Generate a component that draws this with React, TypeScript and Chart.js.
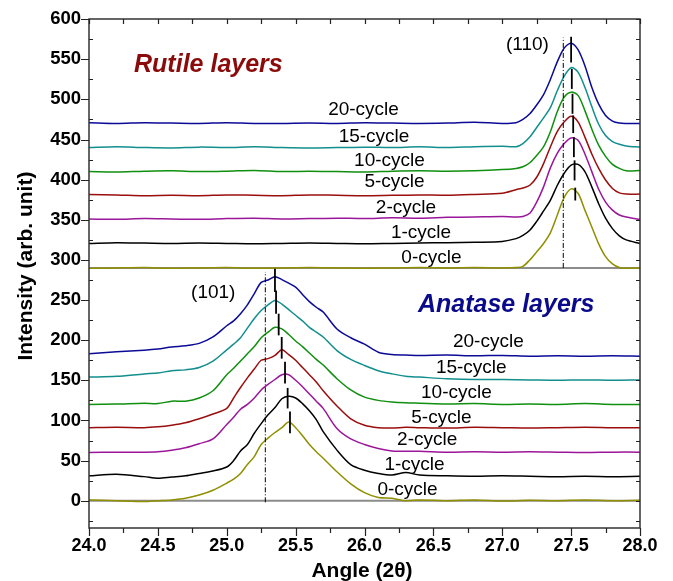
import { useEffect, useRef } from "react";
import { Chart, registerables } from "chart.js";

Chart.register(...registerables);

// ---- Data ----
const cycleNames = ["0-cycle", "1-cycle", "2-cycle", "5-cycle", "10-cycle", "15-cycle", "20-cycle"];
const cycleColors = ["#8f8f00", "#000000", "#9a169a", "#9a0e0e", "#108f10", "#138e8e", "#0b0b96"];

const rutileX = [24.0, 24.2, 24.4, 24.6, 24.8, 25.0, 25.2, 25.4, 25.6, 25.8, 26.0, 26.2, 26.4, 26.6, 26.8,
  27.0, 27.1, 27.15, 27.2, 27.25, 27.3, 27.35, 27.4, 27.45, 27.5, 27.55, 27.6, 27.65, 27.7, 27.75, 27.8, 27.85, 27.9, 28.0];
const rutile0 = [289.5, 290, 290.5, 289.5, 290, 290.5, 289.5, 290, 290.5, 290, 289.5, 290, 290.5, 290, 290.5,
  290, 290.5, 292, 300, 310, 320.5, 334, 356, 378, 388.5, 383, 362, 341, 320, 304, 295, 290.5, 289.5, 290];
const rutile1 = [320.5, 321.5, 321, 320.5, 321, 320.5, 320, 320.5, 321, 320.5, 320, 320.5, 321, 321.5, 322,
  323, 326.5, 330.5, 337, 348, 361, 374.5, 393, 408, 418, 419, 410, 391, 370, 352, 339, 330, 325, 320.5];
const rutile2 = [351, 350.5, 351.5, 351, 350.5, 351.5, 352, 351, 351.5, 352, 351.5, 352.5, 352, 353, 353.5,
  354, 353.5, 354, 358, 372, 391, 415, 433, 445, 452, 449, 432, 410, 388, 372, 362, 356, 353.5, 350.5];
const rutile5 = [381.5, 381, 380, 380.5, 380, 381, 380.5, 380, 381, 380.5, 380, 380.5, 381, 380.5, 381.5,
  383, 387.5, 389.5, 393, 403, 420, 441, 460, 472, 479, 472, 453, 432, 414, 399.5, 389, 383.5, 382, 382];
const rutile10 = [410, 409.5, 410.5, 411, 410, 410.5, 411.5, 410, 410.5, 410, 409.5, 410.5, 411, 410.5, 411,
  412.5, 414, 416, 421, 430, 441, 460, 485, 503, 509, 505, 486, 463, 443, 429, 419, 414, 411, 411.5];
const rutile15 = [440, 441, 440, 439.5, 440.5, 440, 441, 440, 439.5, 440, 440.5, 440, 441, 440, 441,
  441.5, 441, 445, 453, 465, 477, 490, 511, 529, 539.5, 534, 515, 491, 469, 455, 447.5, 444, 442, 440.5];
const rutile20 = [471, 470, 471, 470.5, 470, 471, 470, 470, 470.5, 470, 471, 470.5, 470, 470.5, 471.5,
  470, 471, 475, 482, 493, 506, 525, 547, 564, 570, 562, 542, 515, 494, 480, 473, 470.5, 470, 470];

const anataseX = [24.0, 24.2, 24.4, 24.5, 24.6, 24.7, 24.8, 24.9, 25.0, 25.05, 25.1, 25.15, 25.2, 25.25, 25.3,
  25.35, 25.4, 25.45, 25.5, 25.55, 25.6, 25.65, 25.7, 25.8, 25.9, 26.0, 26.1, 26.2, 26.3, 26.4, 26.6, 26.8,
  27.0, 27.2, 27.4, 27.6, 27.8, 28.0];
const anatase0 = [1, 0, -1, 0, 1, 3, 7, 13, 22, 27, 34, 45, 55, 70, 78,
  85, 91, 98, 91, 81, 70, 61, 53, 36, 21, 10, 4, 3, 0, 1, 0, 1,
  -0.5, 0.5, 0, 1, 0, 0.5];
const anatase1 = [31, 33, 30, 28, 29.5, 31, 34, 37, 42, 50, 62, 70, 84, 96, 107,
  116, 127, 130, 128, 121, 112, 101, 86, 63, 45, 38, 34, 32, 35, 32, 31, 30.5,
  31, 30.5, 30, 30.5, 30, 30.5];
const anatase2 = [60, 60.5, 60.5, 61, 63, 66, 71, 77, 95, 104, 114, 120, 128, 138, 145,
  151, 157, 157, 150, 142, 133, 124, 115, 90, 77, 70, 65, 62, 61.5, 61.5, 60.5, 61,
  60.5, 61, 60.5, 60, 60.5, 60.5];
const anatase5 = [91, 91.5, 91, 92, 94, 97, 102, 108, 115, 128, 141, 153, 164, 175, 177,
  181, 188, 182, 175, 166, 157, 148, 137, 118, 102, 94, 91, 90.5, 91.5, 91, 90.5, 91.5,
  91, 90.5, 91, 91.5, 91, 91];
const anatase10 = [120, 120.5, 121.5, 121, 124, 124, 128, 137, 157, 165, 174, 183, 192, 203, 210,
  216, 214, 207, 199, 192, 184, 176, 169, 152, 138, 129, 125, 123, 122, 121.5, 120.5, 121,
  120, 120.5, 120, 121, 120, 120];
const anatase15 = [154, 155, 158, 159, 162, 163, 166, 174, 188, 195, 203, 215, 227, 237, 244,
  249.5, 245, 238, 231, 224, 216, 210, 204, 187, 176, 168.5, 162, 158, 155, 154, 152, 151,
  151, 150.5, 150, 150.5, 150, 150.5];
const anatase20 = [183, 185.5, 187.5, 189, 191.5, 193, 196, 204, 218, 224, 233, 244, 258, 272, 275,
  279, 275.5, 271, 266, 257, 248, 241, 235, 214, 203, 195, 185, 182, 181.5, 181, 181.5, 180.5,
  181, 180, 180.5, 180, 180.5, 180];

// peak markers (per curve, 0 -> 20 cycle)
const rutilePeakX = [27.53, 27.525, 27.52, 27.515, 27.51, 27.505, 27.5];
const rutilePeakLow = [374, 399, 428, 458, 482, 513, 546];
const rutilePeakHigh = [390, 424, 453, 480, 507, 538, 578];
const anatasePeakX = [25.459, 25.442, 25.423, 25.399, 25.377, 25.358, 25.35];
const anatasePeakLow = [84, 115, 146, 177, 206, 233, 260];
const anatasePeakHigh = [111, 140.5, 173, 204, 233, 262, 289];

// reference lines
const rutileRefX = 27.443;
const rutileRefRange = [290, 577];
const anataseRefX = 25.28;
const anataseRefRange = [-2, 285];
const baselineLevels = [0, 290];

// label anchors (data coordinates)
const rutileLabelX = [26.486, 26.41, 26.301, 26.218, 26.181, 26.069, 25.993];
const rutileLabelY = [296, 327.1, 358.2, 390.5, 416.7, 446.5, 480.1];
const anataseLabelX = [26.312, 26.363, 26.455, 26.558, 26.667, 26.775, 26.899];
const anataseLabelY = [7.5, 38.6, 69.7, 97.4, 127.7, 159.6, 191.9];

const xMajor = [24.0, 24.5, 25.0, 25.5, 26.0, 26.5, 27.0, 27.5, 28.0];
const xMinor = [24.25, 24.75, 25.25, 25.75, 26.25, 26.75, 27.25, 27.75];
const yMajor = [0, 50, 100, 150, 200, 250, 300, 350, 400, 450, 500, 550, 600];
const yMinor = [-25, 25, 75, 125, 175, 225, 275, 325, 375, 425, 475, 525, 575];

const xTitle = "Angle (2θ)";
const yTitle = "Intensity (arb. unit)";

const FONT = "'Liberation Sans', Arial, Helvetica, sans-serif";

const rutileSeries = [rutile0, rutile1, rutile2, rutile5, rutile10, rutile15, rutile20];
const anataseSeries = [anatase0, anatase1, anatase2, anatase5, anatase10, anatase15, anatase20];

const decorPlugin = {
  id: "decor",
  afterDraw(chart: any) {
    const { ctx, chartArea: a, scales } = chart;
    const x = scales.x;
    const y = scales.y;
    ctx.save();
    ctx.setLineDash([]);
    ctx.lineDashOffset = 0;
    ctx.globalAlpha = 1;
    // frame
    ctx.strokeStyle = "#333333";
    ctx.lineWidth = 1.5;
    ctx.beginPath();
    ctx.moveTo(a.left, a.top);
    ctx.lineTo(a.right, a.top);
    ctx.lineTo(a.right, a.bottom);
    ctx.lineTo(a.left, a.bottom);
    ctx.closePath();
    ctx.stroke();

    ctx.lineWidth = 1.2;
    ctx.strokeStyle = "#222222";
    ctx.beginPath();
    yMajor.forEach((v) => {
      const py = Math.round(y.getPixelForValue(v)) + 0.5;
      ctx.moveTo(a.left - 8, py);
      ctx.lineTo(a.left, py);
      ctx.moveTo(a.right - 4, py);
      ctx.lineTo(a.right, py);
    });
    yMinor.forEach((v) => {
      const py = Math.round(y.getPixelForValue(v)) + 0.5;
      ctx.moveTo(a.left, py);
      ctx.lineTo(a.left + 4, py);
      ctx.moveTo(a.right - 4, py);
      ctx.lineTo(a.right, py);
    });
    xMajor.forEach((v) => {
      const px = Math.round(x.getPixelForValue(v)) + 0.5;
      ctx.moveTo(px, a.bottom);
      ctx.lineTo(px, a.bottom + 8);
      ctx.moveTo(px, a.top);
      ctx.lineTo(px, a.top + 5);
    });
    xMinor.forEach((v) => {
      const px = Math.round(x.getPixelForValue(v)) + 0.5;
      ctx.moveTo(px, a.bottom);
      ctx.lineTo(px, a.bottom + 5);
      ctx.moveTo(px, a.top);
      ctx.lineTo(px, a.top + 5);
    });
    ctx.stroke();

    // cycle labels
    ctx.fillStyle = "#000";
    ctx.font = `19px ${FONT}`;
    ctx.textAlign = "center";
    ctx.textBaseline = "alphabetic";
    cycleNames.forEach((name, i) => {
      ctx.fillText(name, x.getPixelForValue(rutileLabelX[i]), y.getPixelForValue(rutileLabelY[i]));
      ctx.fillText(name, x.getPixelForValue(anataseLabelX[i]), y.getPixelForValue(anataseLabelY[i]));
    });
    ctx.fillText("(110)", x.getPixelForValue(27.183), y.getPixelForValue(561));
    ctx.fillText("(101)", x.getPixelForValue(24.902), y.getPixelForValue(252.5));

    // panel titles
    ctx.textAlign = "left";
    ctx.font = `italic bold 25px ${FONT}`;
    ctx.fillStyle = "#8b0a0a";
    ctx.fillText("Rutile layers", x.getPixelForValue(24.327), y.getPixelForValue(534.5));
    ctx.fillStyle = "#0a0a8c";
    ctx.fillText("Anatase layers", x.getPixelForValue(26.388), y.getPixelForValue(235.4));

    // axis titles
    ctx.fillStyle = "#000";
    ctx.font = `bold 21px ${FONT}`;
    ctx.textAlign = "center";
    ctx.textBaseline = "alphabetic";
    ctx.fillText(xTitle, a.left + 273, 577);
    ctx.save();
    ctx.translate(31.5, a.top + 247);
    ctx.rotate(-Math.PI / 2);
    ctx.fillText(yTitle, 0, 0);
    ctx.restore();
    ctx.restore();
  },
};

export default function App() {
  const ref = useRef<HTMLCanvasElement | null>(null);

  useEffect(() => {
    if (!ref.current) return;
    const datasets: any[] = [];
    // gray baselines (drawn underneath)
    baselineLevels.forEach((lv) => {
      datasets.push({
        data: [{ x: 24, y: lv }, { x: 28, y: lv }],
        borderColor: "#8c8c8c",
        borderWidth: 2,
        pointRadius: 0,
        tension: 0,
        order: 10,
      });
    });
    rutileSeries.forEach((s, i) => {
      datasets.push({
        data: s.map((v, k) => ({ x: rutileX[k], y: v })),
        borderColor: cycleColors[i],
        borderWidth: 1.5,
        pointRadius: 0,
        tension: 0.3,
        order: 5,
      });
    });
    anataseSeries.forEach((s, i) => {
      datasets.push({
        data: s.map((v, k) => ({ x: anataseX[k], y: v })),
        borderColor: cycleColors[i],
        borderWidth: 1.5,
        pointRadius: 0,
        tension: 0.3,
        order: 5,
      });
    });
    // reference dash-dot lines
    datasets.push({
      data: [{ x: rutileRefX, y: rutileRefRange[0] }, { x: rutileRefX, y: rutileRefRange[1] }],
      borderColor: "#000",
      borderWidth: 1,
      borderDash: [5, 2, 1, 2],
      pointRadius: 0,
      order: 0,
    });
    datasets.push({
      data: [{ x: anataseRefX, y: anataseRefRange[0] }, { x: anataseRefX, y: anataseRefRange[1] }],
      borderColor: "#000",
      borderWidth: 1,
      borderDash: [5, 2, 1, 2],
      pointRadius: 0,
      order: 0,
    });
    // peak markers
    rutilePeakX.forEach((px, i) => {
      datasets.push({
        data: [{ x: px, y: rutilePeakLow[i] }, { x: px, y: rutilePeakHigh[i] }],
        borderColor: "#000",
        borderWidth: 1.8,
        pointRadius: 0,
        order: 0,
      });
    });
    anatasePeakX.forEach((px, i) => {
      datasets.push({
        data: [{ x: px, y: anatasePeakLow[i] }, { x: px, y: anatasePeakHigh[i] }],
        borderColor: "#000",
        borderWidth: 1.8,
        pointRadius: 0,
        order: 0,
      });
    });

    const chart = new Chart(ref.current, {
      type: "line",
      data: { datasets },
      plugins: [decorPlugin],
      options: {
        animation: false,
        responsive: false,
        maintainAspectRatio: false,
        parsing: false as any,
        layout: { padding: { top: 19, right: 33, left: 0, bottom: 0 } },
        plugins: { legend: { display: false }, tooltip: { enabled: false } },
        scales: {
          x: {
            type: "linear",
            min: 24,
            max: 28,
            afterBuildTicks: (s: any) => {
              s.ticks = xMajor.map((v) => ({ value: v }));
            },
            afterFit: (s: any) => {
              s.height = 53;
            },
            ticks: {
              callback: (v: any) => Number(v).toFixed(1),
              font: { family: FONT, size: 18, weight: "bold" },
              color: "#000",
              padding: 7,
              maxRotation: 0,
              autoSkip: false,
            },
            grid: { display: false, drawTicks: false, tickLength: 0 },
            border: { display: false },
            title: { display: false },
          },
          y: {
            type: "linear",
            min: -34,
            max: 600,
            afterBuildTicks: (s: any) => {
              s.ticks = yMajor.map((v) => ({ value: v }));
            },
            afterFit: (s: any) => {
              s.width = 89;
            },
            ticks: {
              font: { family: FONT, size: 18.5, weight: "bold" },
              color: "#000",
              padding: 8,
              autoSkip: false,
            },
            grid: { display: false, drawTicks: false, tickLength: 0 },
            border: { display: false },
            title: { display: false },
          },
        },
      },
    });
    return () => chart.destroy();
  }, []);

  return (
    <div style={{ position: "absolute", left: 0, top: 0, width: 673, height: 581, background: "#fff" }}>
      <canvas ref={ref} width={673} height={581} style={{ display: "block" }} />
    </div>
  );
}
